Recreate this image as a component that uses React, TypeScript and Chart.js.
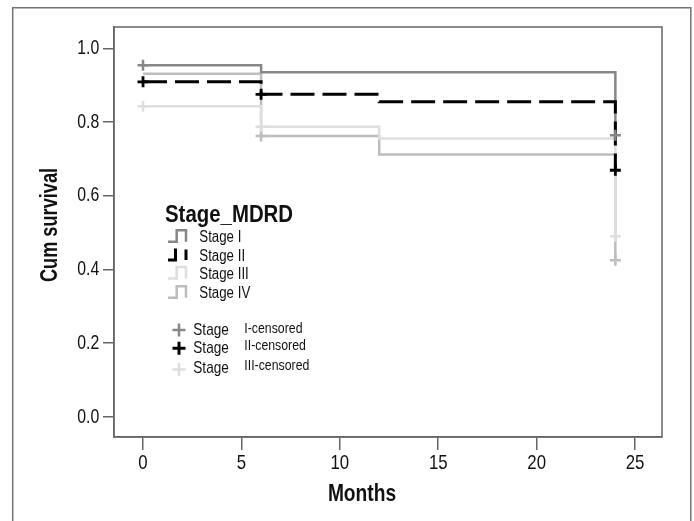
import React, { useEffect, useRef } from "react";
import { Chart, registerables } from "chart.js";

Chart.register(...registerables);

const FONT = "'Liberation Sans', Arial, sans-serif";

// Kaplan-Meier step curves (time in months, cumulative survival)
const months = [0, 6, 12, 24];
const stageI = [0.954, 0.935, 0.935, 0.764];
const stageII = [0.909, 0.875, 0.855, 0.669];
const stageIII = [0.843, 0.787, 0.755, 0.49];
const stageIV = [0.931, 0.762, 0.712, 0.425];

// Censored observations
const censorIMonths = [0, 24];
const censorIValues = [0.954, 0.764];
const censorIIMonths = [0, 6, 24];
const censorIIValues = [0.909, 0.875, 0.669];
const censorIIIMonths = [0, 6, 24];
const censorIIIValues = [0.843, 0.787, 0.49];
const censorIVMonths = [6, 24];
const censorIVValues = [0.762, 0.425];

const xTicks = [0, 5, 10, 15, 20, 25];
const yTicks = [0, 0.2, 0.4, 0.6, 0.8, 1.0];

const xTitle = "Months";
const yTitle = "Cum survival";
const legendTitle = "Stage_MDRD";
const stageNames = ["Stage I", "Stage II", "Stage III", "Stage IV"];
const censorPrefix = "Stage";
const censorNames = ["I-censored", "II-censored", "III-censored"];

const colI = "#878787";
const colII = "#000000";
const colIII = "#dedede";
const colIV = "#bdbdbd";

const pts = (xs: number[], ys: number[]) => xs.map((x, i) => ({ x, y: ys[i] }));

function txt(
  ctx: CanvasRenderingContext2D,
  s: string,
  x: number,
  y: number,
  font: string,
  sx: number,
  align: CanvasTextAlign = "left",
  rot = 0
) {
  ctx.save();
  ctx.translate(x, y);
  if (rot) ctx.rotate(rot);
  ctx.scale(sx, 1);
  ctx.font = font;
  ctx.textAlign = align;
  ctx.textBaseline = "alphabetic";
  ctx.fillText(s, 0, 0);
  ctx.restore();
}

const decorPlugin = {
  id: "decor",
  beforeDraw(chart: any) {
    const ctx = chart.ctx;
    ctx.save();
    ctx.fillStyle = "#ffffff";
    ctx.fillRect(0, 0, chart.width, chart.height);
    ctx.strokeStyle = "#737373";
    ctx.lineWidth = 1.5;
    ctx.beginPath();
    ctx.moveTo(12.7, 530);
    ctx.lineTo(12.7, 7.8);
    ctx.lineTo(690.8, 7.8);
    ctx.lineTo(690.8, 530);
    ctx.stroke();
    ctx.restore();
  },
  afterDraw(chart: any) {
    const ctx: CanvasRenderingContext2D = chart.ctx;
    const a = chart.chartArea;
    const xs = chart.scales.x;
    const ys = chart.scales.y;
    ctx.save();
    ctx.strokeStyle = "#666666";
    ctx.lineWidth = 1.5;
    ctx.strokeRect(a.left, a.top, a.right - a.left, a.bottom - a.top);

    ctx.fillStyle = "#111";
    xs.ticks.forEach((t: any) => {
      txt(ctx, String(t.value), xs.getPixelForValue(t.value), 469.3, `21px ${FONT}`, 0.8, "center");
    });
    ys.ticks.forEach((t: any) => {
      txt(ctx, Number(t.value).toFixed(1), 99.3, ys.getPixelForValue(t.value) + 5.8, `20px ${FONT}`, 0.79, "right");
    });

    txt(ctx, xTitle, 362, 500.7, `bold 24px ${FONT}`, 0.8, "center");
    txt(ctx, yTitle, 57.3, 225, `bold 23px ${FONT}`, 0.79, "center", -Math.PI / 2);

    txt(ctx, legendTitle, 165, 221.7, `bold 24px ${FONT}`, 0.85);

    const baselines = [242.3, 260.7, 279, 298.3];
    const cols = [colI, colII, colIII, colIV];
    stageNames.forEach((name, i) => {
      const b = baselines[i] - 0.6;
      const t = b - 11.5;
      ctx.strokeStyle = cols[i];
      ctx.lineWidth = i === 1 ? 3 : 2.5;
      ctx.lineCap = "butt";
      ctx.beginPath();
      if (i === 1) {
        ctx.moveTo(168, b);
        ctx.lineTo(175.5, b);
        ctx.lineTo(175.5, t);
        ctx.moveTo(186, t + 1);
        ctx.lineTo(186, b);
      } else {
        ctx.moveTo(168, b);
        ctx.lineTo(176.7, b);
        ctx.lineTo(176.7, t);
        ctx.lineTo(186, t);
        ctx.lineTo(186, b);
      }
      ctx.stroke();
      ctx.fillStyle = "#111";
      txt(ctx, name, 199.3, baselines[i], `16px ${FONT}`, 0.83);
    });

    const cy = [330, 348.3, 369.5];
    const ccols = [colI, colII, colIII];
    const sb = [335, 353.3, 373.3];
    const nb = [332.7, 349.5, 370];
    censorNames.forEach((name, i) => {
      ctx.strokeStyle = ccols[i];
      ctx.lineWidth = i === 1 ? 3 : 2.5;
      ctx.beginPath();
      ctx.moveTo(172.5, cy[i]);
      ctx.lineTo(185.5, cy[i]);
      ctx.moveTo(179, cy[i] - 6.5);
      ctx.lineTo(179, cy[i] + 6.5);
      ctx.stroke();
      ctx.fillStyle = "#111";
      txt(ctx, censorPrefix, 193.3, sb[i], `17px ${FONT}`, 0.8);
      txt(ctx, name, 244.3, nb[i], `14px ${FONT}`, 0.88);
    });
    ctx.restore();
  },
};

export default function App() {
  const ref = useRef<HTMLCanvasElement | null>(null);
  useEffect(() => {
    if (!ref.current) return;
    const stepDs = (label: string, ys: number[], color: string, width: number, dash: number[] = []) => ({
      label,
      data: pts(months, ys),
      borderColor: color,
      backgroundColor: color,
      borderWidth: width,
      borderDash: dash,
      stepped: "before" as const,
      pointRadius: 0,
      fill: false,
    });
    const censorDs = (label: string, xs: number[], ys: number[], color: string, width: number) => ({
      label,
      data: pts(xs, ys),
      borderColor: color,
      backgroundColor: color,
      showLine: false,
      pointStyle: "cross" as const,
      pointRadius: 5.5,
      pointBorderWidth: width,
      pointBorderColor: color,
    });
    const chart = new Chart(ref.current, {
      type: "line",
      data: {
        datasets: [
          censorDs("c2", censorIIMonths, censorIIValues, colII, 2.8),
          censorDs("c1", censorIMonths, censorIValues, colI, 2.5),
          censorDs("c3", censorIIIMonths, censorIIIValues, colIII, 2.5),
          censorDs("c4", censorIVMonths, censorIVValues, colIV, 2.5),
          stepDs(stageNames[1], stageII, colII, 3, [24, 8]),
          stepDs(stageNames[0], stageI, colI, 2.5),
          stepDs(stageNames[2], stageIII, colIII, 2.5),
          stepDs(stageNames[3], stageIV, colIV, 2.5),
        ] as any,
      },
      options: {
        animation: false,
        responsive: false,
        devicePixelRatio: 1,
        layout: { padding: { left: 0, top: 27, right: 32, bottom: 0 } },
        plugins: { legend: { display: false }, tooltip: { enabled: false } },
        scales: {
          x: {
            type: "linear",
            min: -1.474,
            max: 26.37,
            afterBuildTicks: (s: any) => {
              s.ticks = xTicks.map((v) => ({ value: v }));
            },
            afterFit: (s: any) => {
              s.height = 84;
            },
            ticks: { display: false },
            grid: { display: true, drawOnChartArea: false, drawTicks: true, tickLength: 13, color: "#666", lineWidth: 1.5 },
            border: { display: true, color: "#666", width: 1.5 },
          },
          y: {
            type: "linear",
            min: -0.0551,
            max: 1.0578,
            afterBuildTicks: (s: any) => {
              s.ticks = yTicks.map((v) => ({ value: v }));
            },
            afterFit: (s: any) => {
              s.width = 114;
            },
            ticks: { display: false },
            grid: { display: true, drawOnChartArea: false, drawTicks: true, tickLength: 11, color: "#666", lineWidth: 1.5 },
            border: { display: true, color: "#666", width: 1.5 },
          },
        },
      },
      plugins: [decorPlugin],
    });
    return () => chart.destroy();
  }, []);
  return (
    <div style={{ position: "fixed", left: 0, top: 0, width: 694, height: 521, background: "#fff" }}>
      <canvas ref={ref} width={694} height={521} style={{ display: "block" }} />
    </div>
  );
}
